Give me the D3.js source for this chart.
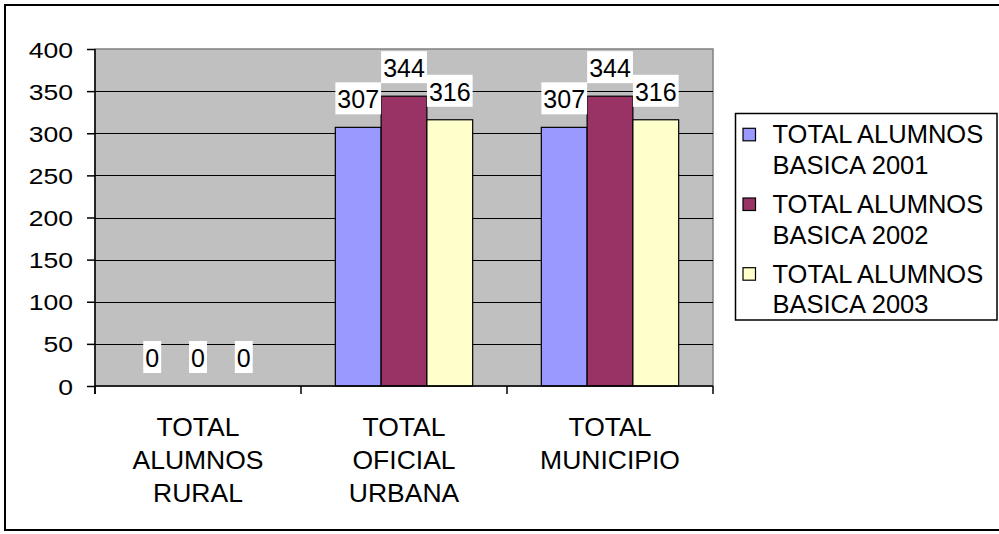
<!DOCTYPE html>
<html>
<head>
<meta charset="utf-8">
<script src="https://cdn.jsdelivr.net/npm/d3@7"></script>
<style>
  html, body { margin: 0; padding: 0; background: #fff; }
  svg { display: block; }
  text { font-family: "Liberation Sans", Arial, sans-serif; fill: #000; }
</style>
</head>
<body>
<svg id="chart" width="999" height="534"></svg>
<script>
// Categories (multi-line labels) and series
const categories = ["TOTAL\nALUMNOS\nRURAL", "TOTAL\nOFICIAL\nURBANA", "TOTAL\nMUNICIPIO"];
const seriesNames = ["TOTAL ALUMNOS\nBASICA 2001", "TOTAL ALUMNOS\nBASICA 2002", "TOTAL ALUMNOS\nBASICA 2003"];
const values2001 = [0, 307, 307];
const values2002 = [0, 344, 344];
const values2003 = [0, 316, 316];
const yTicks = [0, 50, 100, 150, 200, 250, 300, 350, 400];
const seriesColors = ["#9999FF", "#993366", "#FFFFCC"];

const seriesValues = [values2001, values2002, values2003];

const svg = d3.select("#chart");

// Outer chart frame
svg.append("rect")
  .attr("x", 5).attr("y", 5)
  .attr("width", 1000).attr("height", 525)
  .attr("fill", "#fff").attr("stroke", "#000").attr("stroke-width", 2);

const plot = { left: 95, right: 713, top: 49, bottom: 386 };

const y = d3.scaleLinear().domain([0, 400]).range([plot.bottom, plot.top]);
const x0 = d3.scaleBand().domain(categories).range([plot.left, plot.right]).padding(0);
const bw = x0.bandwidth() / 4.5;
const x1 = d3.scaleBand().domain(d3.range(seriesNames.length))
  .range([bw * 0.75, bw * 3.75]).padding(0);

// Plot area background
svg.append("rect")
  .attr("x", plot.left).attr("y", plot.top)
  .attr("width", plot.right - plot.left).attr("height", plot.bottom - plot.top)
  .attr("fill", "#C0C0C0").attr("stroke", "#808080").attr("stroke-width", 1.5);

// Horizontal gridlines
svg.append("g").selectAll("line")
  .data(yTicks.filter(t => t > 0 && t < 400))
  .join("line")
  .attr("x1", plot.left).attr("x2", plot.right)
  .attr("y1", d => Math.round(y(d)) + 0.5).attr("y2", d => Math.round(y(d)) + 0.5)
  .attr("stroke", "#000").attr("stroke-width", 1.2);

// Bars
const groups = svg.append("g").selectAll("g")
  .data(categories)
  .join("g")
  .attr("transform", d => `translate(${x0(d)},0)`);

groups.selectAll("rect")
  .data((d, ci) => seriesValues.map((vals, si) => ({ si, v: vals[ci] })))
  .join("rect")
  .filter(d => d.v > 0)
  .attr("x", d => x1(d.si))
  .attr("y", d => y(d.v))
  .attr("width", x1.bandwidth())
  .attr("height", d => y(0) - y(d.v))
  .attr("fill", d => seriesColors[d.si])
  .attr("stroke", "#000").attr("stroke-width", 1.2);

// Y axis
const yAxis = d3.axisLeft(y).tickValues(yTicks).tickSize(8).tickFormat(d3.format("d"));
const yAxisG = svg.append("g")
  .attr("transform", `translate(${plot.left},0)`)
  .call(yAxis);
yAxisG.select(".domain").remove();
yAxisG.selectAll(".tick line").attr("stroke", "#000").attr("stroke-width", 1.5);
yAxisG.selectAll(".tick text").remove();
yAxisG.selectAll(".tick").append("text")
  .attr("text-anchor", "end")
  .attr("font-size", "22.5px")
  .attr("transform", "translate(-22,8) scale(1.18,1)")
  .text(d => d);
svg.append("line")
  .attr("x1", plot.left).attr("x2", plot.left)
  .attr("y1", plot.top).attr("y2", plot.bottom + 8)
  .attr("stroke", "#000").attr("stroke-width", 1.5);

// X axis with ticks at category boundaries
svg.append("line")
  .attr("x1", plot.left).attr("x2", plot.right)
  .attr("y1", plot.bottom).attr("y2", plot.bottom)
  .attr("stroke", "#000").attr("stroke-width", 1.5);
const boundaries = categories.map(c => x0(c)).concat([x0(categories[categories.length - 1]) + x0.bandwidth()]);
svg.append("g").selectAll("line")
  .data(boundaries)
  .join("line")
  .attr("x1", d => d).attr("x2", d => d)
  .attr("y1", plot.bottom).attr("y2", plot.bottom + 8)
  .attr("stroke", "#000").attr("stroke-width", 1.5);

// Category labels
svg.append("g").selectAll("text")
  .data(categories)
  .join("text")
  .attr("text-anchor", "middle")
  .attr("font-size", "26.5px")
  .attr("transform", d => `translate(${x0(d) + x0.bandwidth() / 2},436)`)
  .selectAll("tspan")
  .data(d => d.split("\n"))
  .join("tspan")
  .attr("x", 0)
  .attr("y", (d, i) => i * 32.8)
  .text(d => d);

// Data labels with white boxes
const labelG = svg.append("g");
categories.forEach((c, ci) => {
  seriesValues.forEach((vals, si) => {
    const v = vals[ci];
    const cx = x0(c) + x1(si) + x1.bandwidth() / 2;
    const by = y(v) - 19;
    const g = labelG.append("g");
    const t = g.append("text")
      .attr("x", cx).attr("y", by)
      .attr("text-anchor", "middle")
      .attr("font-size", "25px")
      .text(v);
    const bb = t.node().getBBox();
    g.insert("rect", "text")
      .attr("x", bb.x - 2).attr("y", by - 26)
      .attr("width", bb.width + 4).attr("height", 32)
      .attr("fill", "#fff");
  });
});

// Legend
const legend = svg.append("g");
legend.append("rect")
  .attr("x", 735.5).attr("y", 113.5)
  .attr("width", 261.5).attr("height", 206.5)
  .attr("fill", "#fff").attr("stroke", "#000").attr("stroke-width", 1.5);

const legendItems = legend.selectAll("g.item")
  .data(seriesNames)
  .join("g")
  .attr("class", "item")
  .attr("transform", (d, i) => `translate(0,${143.3 + i * 69.7})`);

legendItems.append("rect")
  .attr("x", 743).attr("y", -15)
  .attr("width", 12.5).attr("height", 12.5)
  .attr("fill", (d, i) => seriesColors[i])
  .attr("stroke", "#000").attr("stroke-width", 1.2);

legendItems.append("text")
  .attr("font-size", "25.5px")
  .selectAll("tspan")
  .data(d => d.split("\n"))
  .join("tspan")
  .attr("x", 772.5)
  .attr("y", (d, i) => i * 30.5)
  .text(d => d);
</script>
</body>
</html>
